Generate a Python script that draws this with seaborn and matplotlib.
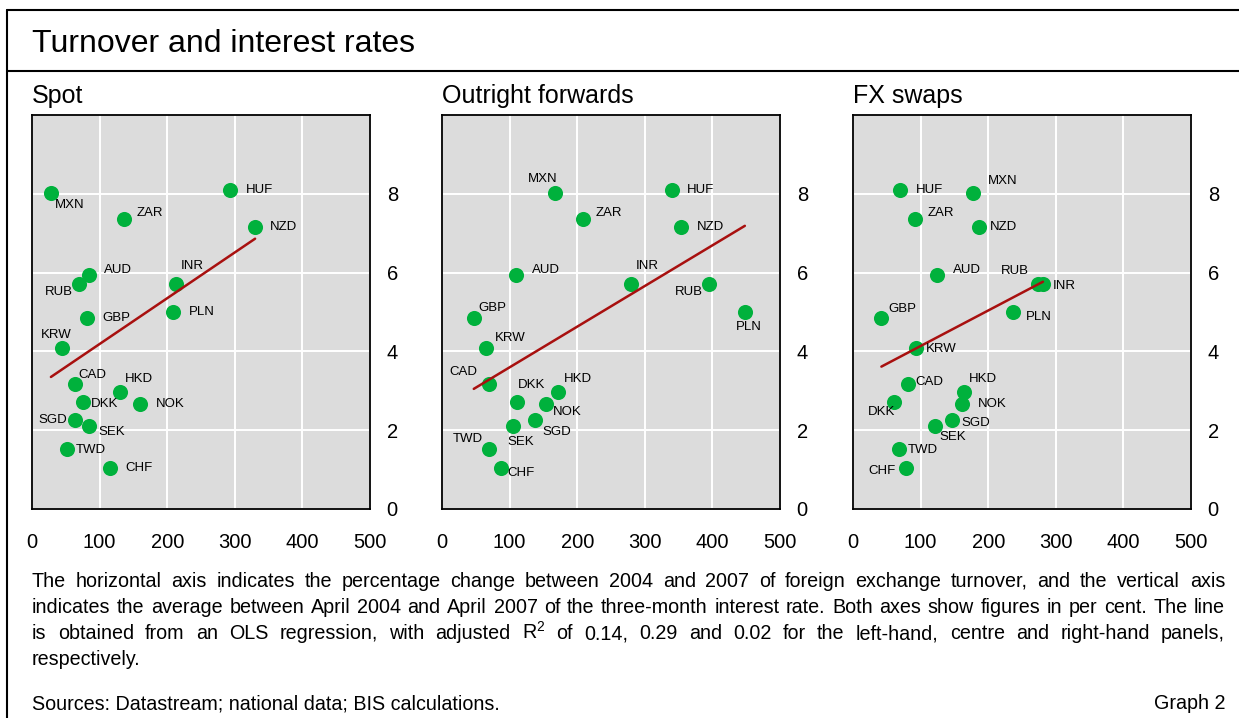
import matplotlib
matplotlib.use("Agg")
import matplotlib.pyplot as plt
import seaborn as sns
from matplotlib.lines import Line2D

# =========================
# Datos
# =========================
monedas = ["MXN", "HUF", "ZAR", "NZD", "AUD", "RUB", "INR", "PLN", "GBP",
           "KRW", "CAD", "HKD", "DKK", "NOK", "SGD", "SEK", "TWD", "CHF"]

# tasa de interés a tres meses (promedio abr-2004 a abr-2007), %
tasa = [8.02, 8.10, 7.37, 7.15, 5.94, 5.71, 5.71, 5.01, 4.84,
        4.08, 3.17, 2.97, 2.72, 2.67, 2.27, 2.11, 1.52, 1.03]

# variación del turnover 2004-2007, %
spot = [28, 293, 136, 330, 85, 69, 213, 209, 81,
        44, 63, 130, 75, 160, 64, 84, 52, 115]
forwards = [167, 340, 208, 354, 109, 395, 280, 448, 47,
            65, 70, 171, 111, 154, 138, 105, 69, 87]
swaps = [178, 70, 92, 186, 124, 274, 281, 236, 42,
         93, 81, 164, 61, 161, 147, 121, 68, 79]

titulos = ["Spot", "Outright forwards", "FX swaps"]
xticks = [0, 100, 200, 300, 400, 500]
yticks = [0, 2, 4, 6, 8]

# posiciones de las etiquetas (px respecto al punto)
off_spot = {"MXN": (4, -12), "HUF": (16, 0), "ZAR": (13, 6), "NZD": (15, 0),
            "AUD": (15, 5), "RUB": (-34, -8), "INR": (5, 18), "PLN": (16, 0),
            "GBP": (16, 0), "KRW": (-21, 13), "CAD": (4, 9), "HKD": (5, 13),
            "DKK": (8, -2), "NOK": (16, 0), "SGD": (-37, 0), "SEK": (10, -6),
            "TWD": (9, -1), "CHF": (16, 0)}
off_fwd = {"MXN": (-27, 14), "HUF": (15, 0), "ZAR": (13, 6), "NZD": (16, 0),
           "AUD": (16, 5), "RUB": (-34, -8), "INR": (4, 18), "PLN": (-9, -15),
           "GBP": (5, 10), "KRW": (9, 10), "CAD": (-40, 12), "HKD": (6, 13),
           "DKK": (1, 17), "NOK": (7, -8), "SGD": (7, -12), "SEK": (-6, -16),
           "TWD": (-36, 10), "CHF": (7, -5)}
off_swap = {"MXN": (15, 12), "HUF": (16, 0), "ZAR": (12, 6), "NZD": (11, 0),
            "AUD": (16, 5), "RUB": (-37, 13), "INR": (10, -2), "PLN": (13, -5),
            "GBP": (7, 9), "KRW": (10, -1), "CAD": (8, 2), "HKD": (5, 13),
            "DKK": (-26, -10), "NOK": (16, 0), "SGD": (9, -3), "SEK": (5, -11),
            "TWD": (9, -1), "CHF": (-38, -3)}

nota = [
    "The horizontal axis indicates the percentage change between 2004 and 2007 of foreign exchange turnover, and the vertical axis",
    "indicates the average between April 2004 and April 2007 of the three-month interest rate. Both axes show figures in per cent. The line",
    "is obtained from an OLS regression, with adjusted R$^2$ of 0.14, 0.29 and 0.02 for the left-hand, centre and right-hand panels,",
    "respectively.",
]

VERDE = "#00B13C"
ROJO = "#A8100F"
GRIS = "#DCDCDC"

# =========================
# Estilo
# =========================
sns.set_style("whitegrid", {"axes.facecolor": GRIS, "grid.color": "white",
                            "axes.edgecolor": "black", "text.color": "black",
                            "xtick.color": "black", "ytick.color": "black"})
plt.rcParams["font.family"] = ["Liberation Sans", "DejaVu Sans"]
plt.rcParams["mathtext.default"] = "regular"
plt.rcParams["text.color"] = "black"

W, H = 1239, 718
fig = plt.figure(figsize=(W / 100, H / 100), dpi=100)


def fx(px):
    return px / W


def fy(py):
    return 1 - py / H


# =========================
# Paneles
# =========================
paneles = [(32, spot, off_spot), (442, forwards, off_fwd), (853, swaps, off_swap)]
for (izq, valores, offsets), titulo in zip(paneles, titulos):
    ax = fig.add_axes([fx(izq), fy(509), 338 / W, 394 / H])
    sns.scatterplot(x=valores, y=tasa, ax=ax, color=VERDE, s=118,
                    linewidth=0, zorder=3)
    sns.regplot(x=valores, y=tasa, ax=ax, scatter=False, ci=None,
                color=ROJO, line_kws={"lw": 1.8, "zorder": 4})
    for m, xv, yv in zip(monedas, valores, tasa):
        ax.annotate(m, (xv, yv), xytext=offsets[m], textcoords="offset pixels",
                    ha="left", va="center", fontsize=9.5, color="black", zorder=5)
    ax.set_xlim(0, 500)
    ax.set_ylim(0, 10)
    ax.set_xticks(xticks)
    ax.set_yticks(yticks)
    ax.set_xlabel("")
    ax.set_ylabel("")
    ax.yaxis.tick_right()
    ax.tick_params(axis="y", length=0, pad=12, labelsize=14.5, labelcolor="black")
    ax.tick_params(axis="x", length=0, pad=17, labelsize=14.5, labelcolor="black")
    ax.grid(True, color="white", lw=1.4)
    for s in ax.spines.values():
        s.set_color("black")
        s.set_linewidth(1.3)
    fig.text(fx(izq), fy(103), titulo, fontsize=18, va="baseline")

# =========================
# Título y marco
# =========================
fig.text(fx(32), fy(52), "Turnover and interest rates", fontsize=23, va="baseline")
for xs, ys in [([7, 7], [10, H]), ([7, W], [10, 10]), ([7, W], [71, 71])]:
    fig.add_artist(Line2D([fx(v) for v in xs], [fy(v) for v in ys],
                          color="black", lw=1.5))

# =========================
# Nota al pie (justificada)
# =========================
renderer = fig.canvas.get_renderer()
x0, x1 = 32, 1225
tam = 14.2
for i, linea in enumerate(nota):
    y = fy(587 + 26 * i)
    if i == len(nota) - 1:
        fig.text(fx(x0), y, linea, fontsize=tam, va="baseline")
        continue
    palabras = linea.split(" ")
    objs = [fig.text(0, y, p, fontsize=tam, va="baseline") for p in palabras]
    anchos = [o.get_window_extent(renderer).width for o in objs]
    hueco = (x1 - x0 - sum(anchos)) / (len(palabras) - 1)
    x = x0
    for o, w in zip(objs, anchos):
        o.set_x(fx(x))
        x += w + hueco

fig.text(fx(32), fy(709), "Sources: Datastream; national data; BIS calculations.",
         fontsize=tam, va="baseline")
fig.text(fx(1225), fy(709), "Graph 2", fontsize=tam, va="baseline", ha="right")

fig.savefig("out.png", dpi=100)
